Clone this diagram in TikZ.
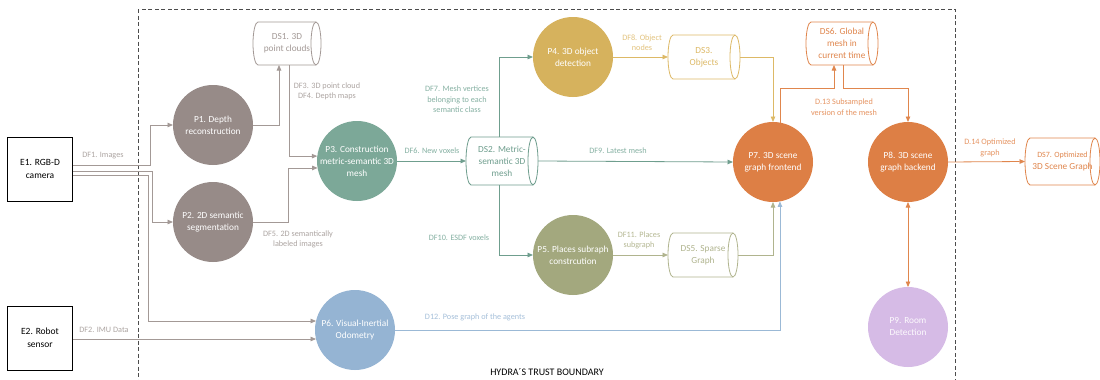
\documentclass[tikz,border=0pt]{standalone}
\usepackage{fontspec}
\setmainfont{Carlito}
\usetikzlibrary{arrows.meta}

% process fills
\definecolor{fgrey}{HTML}{978B88}
\definecolor{fteal}{HTML}{7CA898}
\definecolor{fmust}{HTML}{D6B25D}
\definecolor{folive}{HTML}{A3A87E}
\definecolor{fblue}{HTML}{95B4D3}
\definecolor{forange}{HTML}{DD7F45}
\definecolor{flav}{HTML}{D6BBE6}
% connector colours
\definecolor{lgrey}{HTML}{A39996}
\definecolor{lteal}{HTML}{6F9E8E}
\definecolor{lmust}{HTML}{DDB966}
\definecolor{lolive}{HTML}{B0B48E}
\definecolor{lblue}{HTML}{9BB9D6}
\definecolor{lorange}{HTML}{E0864D}
% label colours
\definecolor{tgrey}{HTML}{ADA5A2}
\definecolor{tteal}{HTML}{86B1A3}
\definecolor{tmust}{HTML}{E3C37E}
\definecolor{tolive}{HTML}{B5B893}
\definecolor{tblue}{HTML}{A6C0DA}
\definecolor{torange}{HTML}{E69462}

\newcommand\pfont{\fontsize{9.3}{12}\selectfont}
\newcommand\sfont{\fontsize{8}{11}\selectfont}
\newcommand\lfont{\fontsize{8.2}{10.5}\selectfont}
\newcommand\efont{\fontsize{9.5}{13}\selectfont}

% data store: name, x, y, width, height, colour, text
\newcommand\datastore[7]{%
  \node[store, text=#6, minimum width=#4pt, minimum height=#5pt] (#1) at (#2,#3) {#7};
  \draw[#6, line width=0.8pt] ([xshift=5pt]#1.north west) -- ([xshift=-5pt]#1.north east)
     arc[start angle=90, end angle=-90, x radius=5pt, y radius=#5*0.5pt]
     -- ([xshift=5pt]#1.south west)
     arc[start angle=270, end angle=90, x radius=5pt, y radius=#5*0.5pt];
  \draw[#6, line width=0.8pt] ([xshift=-5pt]#1.north east)
     arc[start angle=90, end angle=270, x radius=5pt, y radius=#5*0.5pt];
}

\tikzset{
  proc/.style={circle, minimum size=80pt, inner sep=0pt, outer sep=0pt,
    align=center, font=\pfont, text=white},
  store/.style={rectangle, inner sep=0pt, outer sep=0pt, align=center, font=\pfont},
  ext/.style={rectangle, draw=black, line width=0.8pt, minimum width=65pt,
    minimum height=64pt, inner sep=0pt, align=center, font=\efont},
  flow/.style={line width=0.8pt, -{Triangle[length=5.5pt,width=4.5pt]}},
  lbl/.style={align=center, font=\lfont, inner sep=0pt},
}

\begin{document}
\begin{tikzpicture}[x=1pt, y=-1pt]
\useasboundingbox (0,0) rectangle (1100,380);
\clip (0,0) rectangle (1100,380);
\fill[white] (0,0) rectangle (1100,380);

% trust boundary
\draw[black!70, line width=0.9pt, dash pattern=on 4pt off 2.5pt] (138,9) rectangle (955,395);
\node[font=\fontsize{10}{12}\selectfont] (title) at (547,372) {HYDRA´S TRUST BOUNDARY};

% external entities
\node[ext] (E1) at (40,169) {E1. RGB-D\\camera};
\node[ext] (E2) at (40,338) {E2. Robot\\sensor};

% processes
\node[proc, fill=fgrey] (P1) at (213,125) {P1. Depth\\reconstruction};
\node[proc, fill=fgrey] (P2) at (213,222) {P2. 2D semantic\\segmentation};
\node[proc, fill=fteal] (P3) at (357,161) {P3. Construction\\metric-semantic 3D\\mesh};
\node[proc, fill=fmust] (P4) at (573,57) {P4. 3D object\\detection};
\node[proc, fill=folive] (P5) at (573,255) {P5. Places subraph\\constrcution};
\node[proc, fill=fblue] (P6) at (355,330) {P6. Visual-Inertial\\Odometry};
\node[proc, fill=forange] (P7) at (773,162) {P7. 3D scene\\graph frontend};
\node[proc, fill=forange] (P8) at (908,162) {P8. 3D scene\\graph backend};
\node[proc, fill=flav, text=white!92!flav] (P9) at (908,327) {P9. Room\\Detection};

% data stores
\datastore{DS1}{287}{43.5}{68}{43}{lgrey}{DS1. 3D\\point clouds}
\datastore{DS2}{502}{161}{72}{48}{lteal}{DS2. Metric-\\semantic 3D\\mesh}
\datastore{DS3}{704}{57}{72}{44}{lmust}{DS3.\\Objects}
\datastore{DS5}{703}{255}{70}{44}{lolive}{DS5. Sparse\\Graph}
\datastore{DS6}{842}{43.5}{72}{43}{lorange}{DS6. Global\\mesh in\\current time}
\datastore{DS7}{1062.5}{161.5}{75}{47}{lorange}{\sfont DS7. Optimized\\3D Scene Graph}

% flows from the sensors
\draw[flow, lgrey] (E1.east |- 0,165) -| (150,0 |- P1.west) -- (P1.west);
\draw[flow, lgrey] (E1.east |- 0,171) -| (152,0 |- P2.west) -- (P2.west);
\draw[flow, lgrey] (E1.east |- 0,175) -| (148,0 |- P6.167) -- (P6.167);
\draw[flow, lgrey] (E2.east |- P6.193) -- (P6.193);

% depth and segmentation
\draw[flow, lgrey] (P1.east) -| ([xshift=-8pt]DS1.south);
\draw[flow, lgrey] ([xshift=2pt]DS1.south) |- (P3.173);
\draw[flow, lgrey] (P2.east) -| (288,0 |- P3.190) -- (P3.190);

% metric-semantic mesh
\draw[flow, lteal] (P3.east) -- (DS2.west);
\draw[flow, lteal] ([xshift=-3pt]DS2.north) |- (P4.west);
\draw[flow, lteal] ([xshift=-3pt]DS2.south) |- (P5.west);
\draw[flow, lteal] (DS2.east) -- (P7.west);

% objects and places
\draw[flow, lmust] (P4.east) -- (DS3.west);
\draw[flow, lmust] (DS3.east) -| (P7.north);
\draw[flow, lolive] (P5.east) -- (DS5.west);
\draw[flow, lolive] (DS5.east) -| (P7.south);
\draw[flow, lblue] (P6.east) -| (P7.280);

% scene graph frontend / backend
\draw[flow, lorange] (P7.80) -- (P7.80 |- 0,88) -| ([xshift=-8pt]DS6.south);
\draw[flow, lorange] ([xshift=1pt]DS6.south) -- ([xshift=1pt]DS6.south |- 0,88) -| (P8.north);
\draw[flow, lorange] (P8.east) -- (DS7.west);
\draw[flow, lorange, {Triangle[length=5.5pt,width=4.5pt]}-{Triangle[length=5.5pt,width=4.5pt]}] (P8.south) -- (P9.north);

% flow labels
\node[lbl, text=tgrey] (l1) at (103,156) {DF1. Images};
\node[lbl, text=tgrey] (l2) at (104,330) {DF2. IMU Data};
\node[lbl, text=tgrey] (l3) at (327,91.5) {DF3. 3D point cloud\\DF4. Depth maps};
\node[lbl, text=tgrey] (l5) at (298,239.5) {DF5. 2D semantically\\labeled images};
\node[lbl, text=tteal] (l6) at (432,151) {DF6. New voxels};
\node[lbl, text=tteal] (l7) at (457,99.5) {DF7. Mesh vertices\\belonging to each\\semantic class};
\node[lbl, text=tteal] (l10) at (459,238) {DF10. ESDF voxels};
\node[lbl, text=tteal] (l9) at (618,151) {DF9. Latest mesh};
\node[lbl, text=tmust] (l8) at (642,42.5) {DF8. Object\\nodes};
\node[lbl, text=tolive] (l11) at (639,240.5) {DF11. Places\\subgraph};
\node[lbl, text=tblue] (l12) at (475,317) {D12. Pose graph of the agents};
\node[lbl, text=torange] (l13) at (844,107) {D.13 Subsampled\\version of the mesh};
\node[lbl, text=torange] (l14) at (990,148) {D.14 Optimized\\graph};
\end{tikzpicture}
\end{document}
